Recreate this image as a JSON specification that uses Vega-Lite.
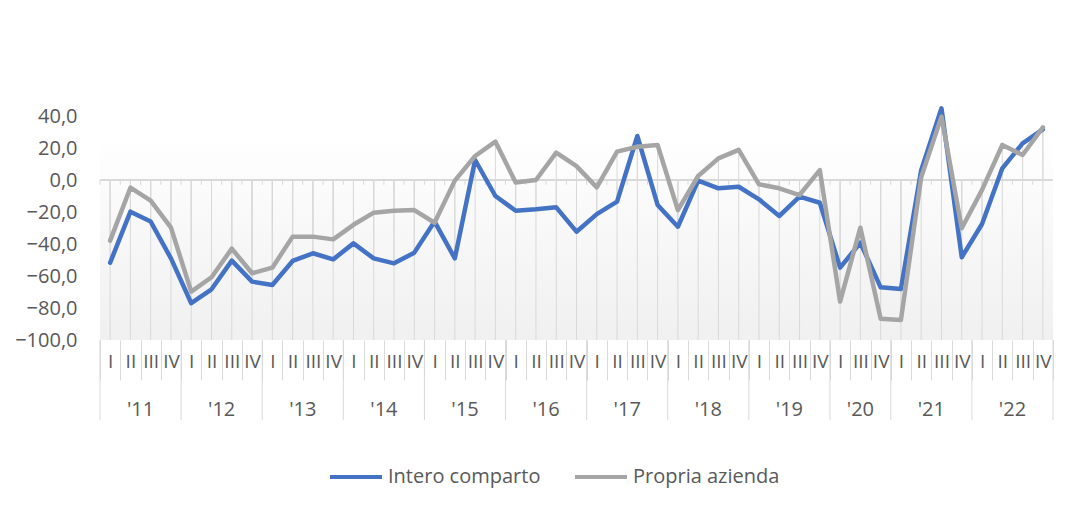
{
  "$schema": "https://vega.github.io/schema/vega-lite/v6.json",
  "width": 953,
  "height": 224,
  "autosize": {"type": "none"},
  "padding": {"left": 100, "top": 116, "right": 39, "bottom": 166},
  "background": "#ffffff",
  "view": {
    "stroke": null,
    "fill": {
      "gradient": "linear", "x1": 0, "y1": 0, "x2": 0, "y2": 1,
      "stops": [
        {"offset": 0, "color": "#ffffff"},
        {"offset": 0.08, "color": "#ffffff"},
        {"offset": 1, "color": "#f0f0f0"}
      ]
    }
  },
  "datasets": {
    "main": [
      {"q": "11-I", "Intero comparto": -51.7, "Propria azienda": -37.9},
      {"q": "11-II", "Intero comparto": -19.8, "Propria azienda": -4.8},
      {"q": "11-III", "Intero comparto": -26.0, "Propria azienda": -12.9},
      {"q": "11-IV", "Intero comparto": -49.0, "Propria azienda": -29.8},
      {"q": "12-I", "Intero comparto": -77.0, "Propria azienda": -69.8},
      {"q": "12-II", "Intero comparto": -68.3, "Propria azienda": -60.8},
      {"q": "12-III", "Intero comparto": -50.4, "Propria azienda": -42.9},
      {"q": "12-IV", "Intero comparto": -63.5, "Propria azienda": -58.3},
      {"q": "13-I", "Intero comparto": -65.6, "Propria azienda": -54.8},
      {"q": "13-II", "Intero comparto": -50.6, "Propria azienda": -35.4},
      {"q": "13-III", "Intero comparto": -45.8, "Propria azienda": -35.4},
      {"q": "13-IV", "Intero comparto": -49.6, "Propria azienda": -37.1},
      {"q": "14-I", "Intero comparto": -39.6, "Propria azienda": -28.0},
      {"q": "14-II", "Intero comparto": -49.0, "Propria azienda": -20.4},
      {"q": "14-III", "Intero comparto": -52.1, "Propria azienda": -19.2},
      {"q": "14-IV", "Intero comparto": -45.4, "Propria azienda": -18.8},
      {"q": "15-I", "Intero comparto": -26.0, "Propria azienda": -26.7},
      {"q": "15-II", "Intero comparto": -49.0, "Propria azienda": -0.4},
      {"q": "15-III", "Intero comparto": 12.5, "Propria azienda": 15.0},
      {"q": "15-IV", "Intero comparto": -10.0, "Propria azienda": 24.0},
      {"q": "16-I", "Intero comparto": -19.2, "Propria azienda": -1.5},
      {"q": "16-II", "Intero comparto": -18.3, "Propria azienda": 0.0},
      {"q": "16-III", "Intero comparto": -17.1, "Propria azienda": 17.1},
      {"q": "16-IV", "Intero comparto": -32.3, "Propria azienda": 8.7},
      {"q": "17-I", "Intero comparto": -21.3, "Propria azienda": -4.6},
      {"q": "17-II", "Intero comparto": -13.5, "Propria azienda": 17.7},
      {"q": "17-III", "Intero comparto": 27.5, "Propria azienda": 20.8},
      {"q": "17-IV", "Intero comparto": -15.6, "Propria azienda": 21.9},
      {"q": "18-I", "Intero comparto": -29.2, "Propria azienda": -18.8},
      {"q": "18-II", "Intero comparto": -0.4, "Propria azienda": 2.5},
      {"q": "18-III", "Intero comparto": -5.2, "Propria azienda": 13.5},
      {"q": "18-IV", "Intero comparto": -4.2, "Propria azienda": 18.8},
      {"q": "19-I", "Intero comparto": -12.1, "Propria azienda": -2.7},
      {"q": "19-II", "Intero comparto": -22.5, "Propria azienda": -5.2},
      {"q": "19-III", "Intero comparto": -10.4, "Propria azienda": -9.4},
      {"q": "19-IV", "Intero comparto": -14.2, "Propria azienda": 6.2},
      {"q": "20-I", "Intero comparto": -54.8, "Propria azienda": -76.0},
      {"q": "20-III", "Intero comparto": -39.2, "Propria azienda": -29.8},
      {"q": "20-IV", "Intero comparto": -67.1, "Propria azienda": -86.7},
      {"q": "21-I", "Intero comparto": -68.1, "Propria azienda": -87.5},
      {"q": "21-II", "Intero comparto": 6.2, "Propria azienda": 1.7},
      {"q": "21-III", "Intero comparto": 44.8, "Propria azienda": 39.6},
      {"q": "21-IV", "Intero comparto": -48.3, "Propria azienda": -30.2},
      {"q": "22-I", "Intero comparto": -27.5, "Propria azienda": -6.2},
      {"q": "22-II", "Intero comparto": 7.3, "Propria azienda": 21.9},
      {"q": "22-III", "Intero comparto": 22.9, "Propria azienda": 15.6},
      {"q": "22-IV", "Intero comparto": 31.7, "Propria azienda": 32.9}
    ],
    "years": [
      {"yr": "'11", "first": "11-I", "mid": "11-II"},
      {"yr": "'12", "first": "12-I", "mid": "12-II"},
      {"yr": "'13", "first": "13-I", "mid": "13-II"},
      {"yr": "'14", "first": "14-I", "mid": "14-II"},
      {"yr": "'15", "first": "15-I", "mid": "15-II"},
      {"yr": "'16", "first": "16-I", "mid": "16-II"},
      {"yr": "'17", "first": "17-I", "mid": "17-II"},
      {"yr": "'18", "first": "18-I", "mid": "18-II"},
      {"yr": "'19", "first": "19-I", "mid": "19-II"},
      {"yr": "'20", "first": "20-I", "mid": "20-III"},
      {"yr": "'21", "first": "21-I", "mid": "21-II"},
      {"yr": "'22", "first": "22-I", "mid": "22-II"}
    ]
  },
  "layer": [
    {
      "data": {"name": "main"},
      "mark": {"type": "rule", "color": "#d9d9d9", "strokeWidth": 1},
      "encoding": {
        "x": {"field": "q", "type": "nominal", "title": null},
        "y": {"datum": 0, "type": "quantitative", "title": null},
        "y2": {"datum": -100}
      }
    },
    {
      "data": {"name": "main"},
      "mark": {"type": "rule", "color": "#d9d9d9", "strokeWidth": 1},
      "encoding": {
        "x": {"field": "q", "type": "nominal", "title": null},
        "y": {"field": "Intero comparto", "type": "quantitative", "title": null},
        "y2": {"datum": 0}
      }
    },
    {
      "data": {"name": "main"},
      "mark": {"type": "rule", "color": "#d9d9d9", "strokeWidth": 1},
      "encoding": {
        "x": {"field": "q", "type": "nominal", "title": null},
        "y": {"field": "Propria azienda", "type": "quantitative", "title": null},
        "y2": {"datum": 0}
      }
    },
    {
      "data": {"name": "main"},
      "mark": {"type": "rule", "color": "#d9d9d9", "strokeWidth": 1},
      "encoding": {
        "x": {"field": "q", "type": "nominal", "bandPosition": 0, "title": null},
        "y": {"datum": 0, "type": "quantitative", "title": null},
        "y2": {"datum": -3}
      }
    },
    {
      "data": {"name": "main"},
      "mark": {"type": "rule", "color": "#d9d9d9", "strokeWidth": 1.5},
      "encoding": {
        "y": {"datum": 0, "type": "quantitative", "title": null}
      }
    },
    {
      "data": {"name": "years"},
      "mark": {"type": "rule", "color": "#d9d9d9", "strokeWidth": 1},
      "encoding": {
        "x": {"field": "first", "type": "nominal", "bandPosition": 0, "title": null},
        "y": {"datum": -100, "type": "quantitative", "title": null},
        "y2": {"datum": -150}
      }
    },
    {
      "data": {"name": "years"},
      "transform": [{"filter": "datum.yr == \"'22\""}],
      "mark": {"type": "rule", "color": "#d9d9d9", "strokeWidth": 1},
      "encoding": {
        "x": {"datum": "22-IV", "type": "nominal", "bandPosition": 1, "title": null},
        "y": {"datum": -100, "type": "quantitative", "title": null},
        "y2": {"datum": -150}
      }
    },
    {
      "data": {"name": "years"},
      "transform": [{"filter": "datum.yr != \"'20\""}],
      "mark": {"type": "text", "font": "Open Sans", "fontSize": 20, "color": "#595959", "baseline": "middle", "align": "center"},
      "encoding": {
        "x": {"field": "mid", "type": "nominal", "bandPosition": 1, "title": null},
        "y": {"datum": -144, "type": "quantitative", "title": null},
        "text": {"field": "yr"}
      }
    },
    {
      "data": {"name": "years"},
      "transform": [{"filter": "datum.yr == \"'20\""}],
      "mark": {"type": "text", "font": "Open Sans", "fontSize": 20, "color": "#595959", "baseline": "middle", "align": "center"},
      "encoding": {
        "x": {"field": "mid", "type": "nominal", "bandPosition": 0.5, "title": null},
        "y": {"datum": -144, "type": "quantitative", "title": null},
        "text": {"field": "yr"}
      }
    },
    {
      "data": {"name": "main"},
      "transform": [{"fold": ["Intero comparto", "Propria azienda"], "as": ["serie", "valore"]}],
      "mark": {"type": "line", "strokeWidth": 4.5, "strokeJoin": "round", "strokeCap": "round"},
      "encoding": {
        "x": {
          "field": "q", "type": "nominal", "title": null,
          "scale": {"paddingInner": 0, "paddingOuter": 0}
        },
        "y": {
          "field": "valore", "type": "quantitative", "title": null,
          "scale": {"domain": [-100, 40], "nice": false, "zero": false}
        },
        "color": {
          "field": "serie", "type": "nominal",
          "scale": {"domain": ["Intero comparto", "Propria azienda"], "range": ["#4472C4", "#A5A5A5"]},
          "legend": {
            "orient": "none", "legendX": 228, "legendY": 333, "direction": "horizontal", "title": null,
            "symbolType": "stroke", "symbolSize": 2700, "symbolStrokeWidth": 4,
            "labelFont": "Open Sans", "labelFontSize": 20, "labelColor": "#595959", "labelLimit": 300,
            "labelOffset": 4, "columnPadding": 26
          }
        }
      }
    }
  ],
  "config": {
    "font": "Open Sans",
    "axisX": {
      "orient": "bottom", "domain": false, "grid": false,
      "ticks": true, "tickBand": "extent", "tickSize": 40, "tickColor": "#d9d9d9", "tickWidth": 1,
      "labelAngle": 0, "labelExpr": "split(datum.value, '-')[1]",
      "labelFont": "Open Sans", "labelFontSize": 19, "labelColor": "#595959",
      "labelBaseline": "middle", "labelPadding": -19, "labelOverlap": false, "labelBound": false
    },
    "axisY": {
      "domain": false, "ticks": false, "grid": false, "tickCount": 7,
      "labelExpr": "replace(format(datum.value, '.1f'), '.', ',')",
      "labelFont": "Open Sans", "labelFontSize": 20, "labelColor": "#595959",
      "labelPadding": 23
    }
  }
}
